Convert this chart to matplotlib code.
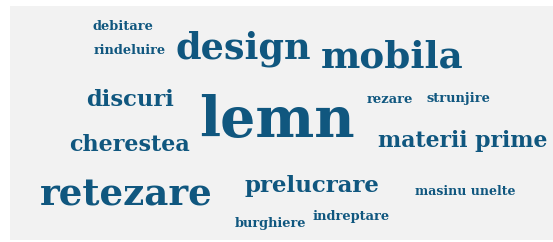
import matplotlib.pyplot as plt

# word cloud data: words and their weights
words = ['lemn', 'design', 'mobila', 'retezare', 'materii prime', 'cherestea',
         'discuri', 'prelucrare', 'debitare', 'rindeluire', 'rezare',
         'strunjire', 'masinu unelte', 'burghiere', 'indreptare']
weights = [9.1, 6.0, 6.1, 6.1, 3.6, 3.65, 3.7, 3.75, 2.13, 2.1, 2.15, 2.13, 2.05, 2.1, 2.13]

# layout: word centres in pixels (x from left, y from top)
layout = [(277, 122), (243, 49), (392, 58), (126, 196), (463, 141), (130, 145),
          (130, 100), (312, 186), (123, 27), (130, 51), (390, 100),
          (458, 99), (465, 192), (270, 224), (351, 217)]

W, H = 553, 242
fig = plt.figure(figsize=(W / 100, H / 100), dpi=100)
fig.patch.set_facecolor('white')
ax = fig.add_axes([10 / W, 2 / H, (W - 10) / W, (H - 8) / H])
ax.set_facecolor('#f2f2f2')
ax.set_xlim(10, W)
ax.set_ylim(H - 2, 6)
for s in ax.spines.values():
    s.set_visible(False)
ax.set_xticks([])
ax.set_yticks([])

for w, v, (x, y) in zip(words, weights, layout):
    ax.text(x, y, w, ha='center', va='center', fontsize=4.4 * v,
            family='DejaVu Serif', weight='bold', color='#10577f')

fig.savefig('out.png', dpi=100)
